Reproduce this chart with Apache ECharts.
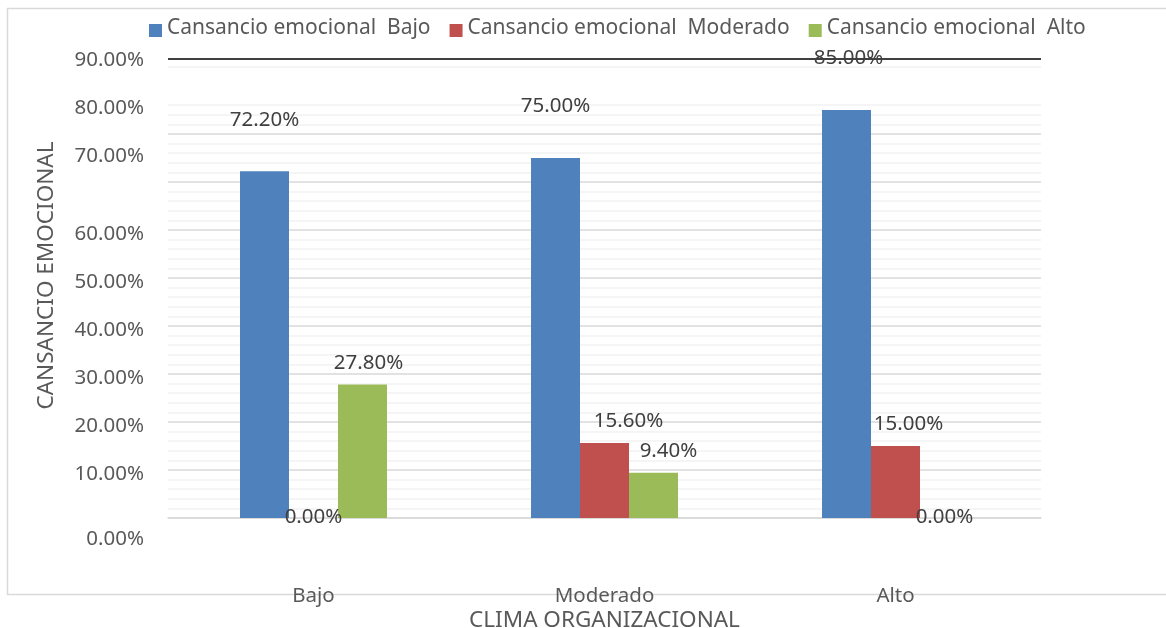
<!DOCTYPE html>
<html>
<head>
<meta charset="utf-8">
<script src="https://cdn.jsdelivr.net/npm/echarts@6/dist/echarts.min.js"></script>
<style>html,body{margin:0;padding:0;background:#fff}#c{width:1166px;height:628px}</style>
</head>
<body>
<div id="c"></div>
<script>
const categories = ['Bajo', 'Moderado', 'Alto'];
const seriesNames = ['Cansancio emocional  Bajo', 'Cansancio emocional  Moderado', 'Cansancio emocional  Alto'];
const valuesBajo = [72.2, 75.0, 85.0];
const valuesModerado = [0.0, 15.6, 15.0];
const valuesAlto = [27.8, 9.4, 0.0];
const yTickValues = [0, 10, 20, 30, 40, 50, 60, 70, 80, 90];
const yTickLabels = ['0.00%', '10.00%', '20.00%', '30.00%', '40.00%', '50.00%', '60.00%', '70.00%', '80.00%', '90.00%'];
const yMax = 95.6;
const yStep = 2;
const hiddenGrid = [88, 90, 92];

// label style tweaks (horizontal nudges of data labels, px)
const dxBajo = [0, 0, 2];
const dxModerado = [0, 24, 13];
const dxAlto = [6, 15, 0];

const FONT = 'Noto Sans';
const FS = 20.5;
const colors = ['#4F81BD', '#C0504D', '#9BBB59'];

// split-line colours, one per tick (0..94 step 2, then max)
const tickList = [];
for (let v = 0; v <= yMax; v += yStep) tickList.push(Math.round(v * 100) / 100);
if (tickList[tickList.length - 1] < yMax) tickList.push(yMax);
const lineColors = tickList.map(v => {
  if (hiddenGrid.some(h => Math.abs(h - v) < 1e-6)) return 'rgba(0,0,0,0)';
  if (Math.abs(v % 10) < 1e-6) return '#d9d9d9';
  return '#f2f2f2';
});

function mkData(vals, dist, dx) {
  return vals.map((v, i) => ({
    value: v,
    label: { distance: v === 0 ? -10 : dist, offset: [dx[i], 0] }
  }));
}

const chart = echarts.init(document.getElementById('c'), null, { renderer: 'canvas' });
const labelStyle = {
  show: true, position: 'top', color: '#404040', fontSize: FS, fontFamily: FONT,
  formatter: p => p.value.toFixed(2) + '%'
};
chart.setOption({
  animation: false,
  backgroundColor: '#fff',
  textStyle: { fontFamily: FONT },
  graphic: [{
    type: 'rect', z: -10,
    shape: { x: 7.5, y: 8.5, width: 1170, height: 586 },
    style: { fill: 'none', stroke: '#d9d9d9', lineWidth: 1.5 }
  }],
  legend: {
    left: 149, top: 18, padding: 0, itemWidth: 13, itemHeight: 13, itemGap: 19,
    icon: 'rect',
    formatter: n => '{a|' + n + '}',
    textStyle: {
      color: '#595959', fontSize: 21, fontFamily: FONT,
      rich: { a: { color: '#595959', fontSize: 21, fontFamily: FONT, padding: [0, 0, 4, 0] } }
    },
    data: seriesNames
  },
  grid: { left: 168, right: 125, top: 59, bottom: 110, containLabel: false, outerBoundsMode: 'none' },
  xAxis: {
    type: 'category', data: categories,
    axisLine: { lineStyle: { color: '#d9d9d9', width: 1.5 } },
    axisTick: { show: false },
    axisLabel: { margin: 68, color: '#595959', fontSize: FS, fontFamily: FONT },
    name: 'CLIMA ORGANIZACIONAL', nameLocation: 'middle', nameGap: 91, nameMoveOverlap: false,
    nameTextStyle: { color: '#595959', fontSize: 22.5, fontFamily: FONT }
  },
  yAxis: {
    type: 'value', min: 0, max: yMax, interval: yStep,
    axisLine: { show: false }, axisTick: { show: false },
    splitLine: { show: true, lineStyle: { color: lineColors, width: 1.5 } },
    axisLabel: {
      margin: 24, color: '#595959', fontSize: FS, fontFamily: FONT,
      formatter: v => {
        const i = yTickValues.findIndex(t => Math.abs(t - v) < 1e-6);
        if (i < 0) return '';
        const t = yTickLabels[i];
        if (yTickValues[i] === 0) return '{d|' + t + '}';
        if (yTickValues[i] >= 70) return '{u|' + t + '}';
        return '{n|' + t + '}';
      },
      rich: {
        n: { color: '#595959', fontSize: FS, fontFamily: FONT, padding: [8, 0, 0, 0] },
        u: { color: '#595959', fontSize: FS, fontFamily: FONT, padding: [0, 0, 52, 0] },
        d: { color: '#595959', fontSize: FS, fontFamily: FONT, padding: [42, 0, 0, 0] }
      }
    },
    name: 'CANSANCIO EMOCIONAL', nameLocation: 'middle', nameGap: 110, nameRotate: 90, nameMoveOverlap: false,
    nameTextStyle: { color: '#595959', fontSize: 22.5, fontFamily: FONT, padding: [0, 0, 0, 26] }
  },
  series: [
    {
      name: seriesNames[0], type: 'bar', data: mkData(valuesBajo, 41, dxBajo),
      barWidth: 49, barGap: '0%', itemStyle: { color: colors[0] }, label: labelStyle,
      markLine: {
        silent: true, symbol: 'none', label: { show: false },
        lineStyle: { color: '#404040', width: 2, type: 'solid' },
        data: [{ yAxis: yMax }]
      }
    },
    {
      name: seriesNames[1], type: 'bar', data: mkData(valuesModerado, 11, dxModerado),
      barWidth: 49, barGap: '0%', itemStyle: { color: colors[1] }, label: labelStyle
    },
    {
      name: seriesNames[2], type: 'bar', data: mkData(valuesAlto, 11, dxAlto),
      barWidth: 49, barGap: '0%', itemStyle: { color: colors[2] }, label: labelStyle
    }
  ]
});
</script>
</body>
</html>
